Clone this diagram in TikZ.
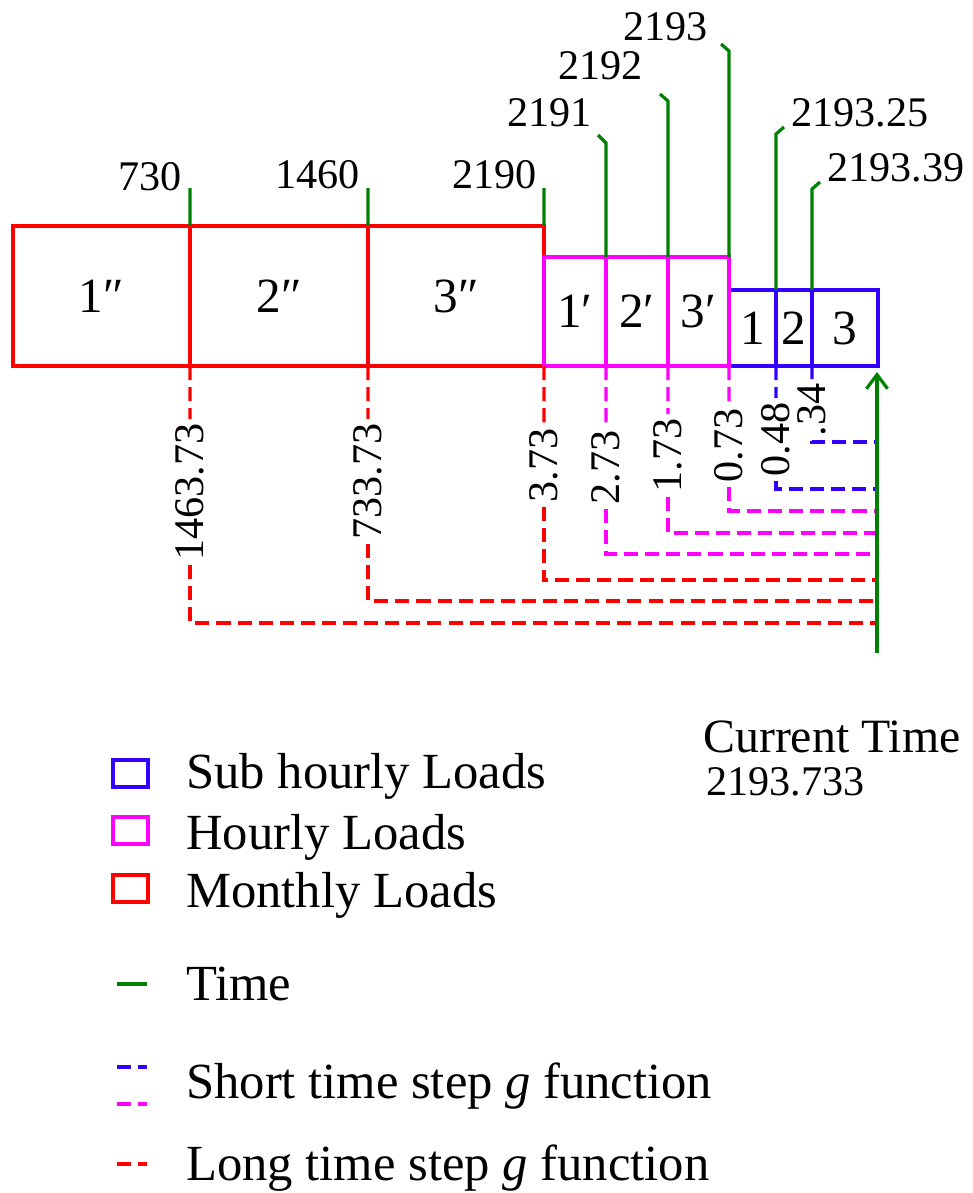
\documentclass[tikz,border=0pt]{standalone}
\usepackage{fontspec}
\setmainfont{Liberation Serif}
\usetikzlibrary{arrows.meta,positioning}
\definecolor{MonthRed}{HTML}{FF0000}
\definecolor{HourPink}{HTML}{FF00FF}
\definecolor{SubBlue}{HTML}{3300FF}
\definecolor{TimeGreen}{HTML}{008000}
\tikzset{monthcell/.style={rectangle,draw=MonthRed,line width=2.8pt,minimum height=3.5cm,outer sep=0pt,inner sep=0pt,font=\fontsize{35}{37}\selectfont},hourcell/.style={rectangle,draw=HourPink,line width=2.6pt,minimum height=2.725cm,outer sep=0pt,inner sep=0pt,font=\fontsize{35}{37}\selectfont},subcell/.style={rectangle,draw=SubBlue,line width=2.4pt,minimum height=1.9cm,outer sep=0pt,inner sep=0pt,font=\fontsize{35}{37}\selectfont},timetick/.style={draw=TimeGreen,line width=2.3pt},timelabel/.style={anchor=base east,inner sep=0pt},gvalue/.style={rotate=90,anchor=east,inner xsep=3pt,inner ysep=0pt},longstep/.style={draw=MonthRed,line width=2.4pt,dash pattern=on 10pt off 5pt},hourstep/.style={draw=HourPink,line width=2.4pt,dash pattern=on 10pt off 5pt},substep/.style={draw=SubBlue,line width=2.4pt,dash pattern=on 10pt off 5pt},nowline/.style={draw=TimeGreen,line width=2.3pt,-{Straight Barb[length=10pt,width=15pt]}},legbox/.style={rectangle,line width=2.2pt,minimum width=0.875cm,minimum height=0.675cm,inner sep=0pt},legtext/.style={anchor=base west,inner sep=0pt,font=\fontsize{36}{38}\selectfont}}
\begin{document}
\begin{tikzpicture}[x=0.025cm,y=-0.025cm,font=\fontsize{30}{32}\selectfont]
\useasboundingbox (0,0) rectangle (973,1193);
% load blocks
\node[monthcell,minimum width=4.425cm] (M1) at (101.5,296) {1″};
\node[monthcell,minimum width=4.45cm] (M2) at (279,296) {2″};
\node[monthcell,minimum width=4.4cm] (M3) at (456,296) {3″};
\node[subcell,minimum width=1.175cm] (S1) at (752.5,328) {1};
\node[subcell,minimum width=0.9cm] (S2) at (794,328) {2};
\node[subcell,minimum width=1.65cm] (S3) at (845,328) {3};
\node[hourcell,minimum width=1.55cm] (H1) at (575,311.5) {1′};
\node[hourcell,minimum width=1.55cm] (H2) at (637,311.5) {2′};
\node[hourcell,minimum width=1.525cm] (H3) at (698.5,311.5) {3′};
% time marks
\coordinate (T1) at (190,188);
\coordinate (T2) at (368,188);
\coordinate (T3) at (544,188);
\draw[timetick] (M1.north east) -- (T1);
\draw[timetick] (M2.north east) -- (T2);
\draw[timetick] (M3.north east) -- (T3);
\node[timelabel] (L730) at (182,190) {730};
\node[timelabel] (L1460) at (360,188) {1460};
\node[timelabel] (L2190) at (537,188) {2190};
\coordinate (K1) at (598,135);
\coordinate (K2) at (660,94);
\coordinate (K3) at (721,44);
\coordinate (K4) at (784,127);
\coordinate (K5) at (820,182);
\draw[timetick] (H1.north east) -- (606,143) -- (K1);
\draw[timetick] (H2.north east) -- (668,101) -- (K2);
\draw[timetick] (H3.north east) -- (729,51) -- (K3);
\draw[timetick] (S1.north east) -- (776,134) -- (K4);
\draw[timetick] (S2.north east) -- (812,189) -- (K5);
\node[timelabel] (L2191) at (592,126) {2191};
\node[timelabel] (L2192) at (643,79) {2192};
\node[timelabel] (L2193) at (708,40) {2193};
\node[timelabel,anchor=base west] (L219325) at (791,126) {2193.25};
\node[timelabel,anchor=base west] (L219339) at (827,181) {2193.39};
% g function steps back to the current time
\coordinate (A1) at (877,623);
\coordinate (A2) at (877,601);
\coordinate (A3) at (877,580);
\coordinate (A4) at (877,554);
\coordinate (A5) at (877,533);
\coordinate (A6) at (877,511);
\coordinate (A7) at (877,489);
\coordinate (A8) at (877,442);
\node[gvalue] (G1) at (190,419) {1463.73};
\node[gvalue] (G2) at (368,419) {733.73};
\node[gvalue] (G3) at (544,424) {3.73};
\node[gvalue] (G4) at (606,426) {2.73};
\node[gvalue] (G5) at (668,414) {1.73};
\node[gvalue] (G6) at (729,404) {0.73};
\node[gvalue] (G7) at (776,398) {0.48};
\node[gvalue] (G8) at (812,379) {.34};
\draw[longstep] (M1.south east) -- (G1.east);\draw[longstep] (G1.west) |- (A1);
\draw[longstep] (M2.south east) -- (G2.east);\draw[longstep] (G2.west) |- (A2);
\draw[longstep] (M3.south east) -- (G3.east);\draw[longstep] (G3.west) |- (A3);
\draw[hourstep] (H1.south east) -- (G4.east);\draw[hourstep] (G4.west) |- (A4);
\draw[hourstep] (H2.south east) -- (G5.east);\draw[hourstep] (G5.west) |- (A5);
\draw[hourstep] (H3.south east) -- (G6.east);\draw[hourstep] (G6.west) |- (A6);
\draw[substep] (S1.south east) -- (G7.east);\draw[substep] (G7.west) |- (A7);
\draw[substep] (S2.south east) -- (G8.east);\draw[substep] (G8.west) |- (A8);
\coordinate (NowFoot) at (877,653);
\coordinate (NowTip) at (877,372);
\draw[nowline] (NowFoot) -- (NowTip);
\node[legtext,font=\fontsize{34}{36}\selectfont] (NowText) at (703,752) {Current Time};
\node[legtext,font=\fontsize{30}{32}\selectfont] (NowValue) at (706,795) {2193.733};
% legend
\node[legbox,draw=SubBlue] (KeySub) at (130.5,773.5) {};
\node[legbox,draw=HourPink] (KeyHour) at (130.5,830.5) {};
\node[legbox,draw=MonthRed] (KeyMonth) at (130.5,888.5) {};
\node[legtext] (KeySubText) at (186,788) {Sub hourly Loads};
\node[legtext] (KeyHourText) at (186,849) {Hourly Loads};
\node[legtext] (KeyMonthText) at (186,907) {Monthly Loads};
\draw[timetick] (117,984) -- (147,984);
\node[legtext] (KeyTimeText) at (186,1000) {Time};
\draw[substep] (117,1067) -- (147,1067);
\draw[hourstep] (117,1104) -- (147,1104);
\node[legtext] (KeyShortText) at (186,1098) {Short time step \textit{g} function};
\draw[longstep] (117,1164) -- (147,1164);
\node[legtext] (KeyLongText) at (186,1180) {Long time step \textit{g} function};
\end{tikzpicture}
\end{document}
